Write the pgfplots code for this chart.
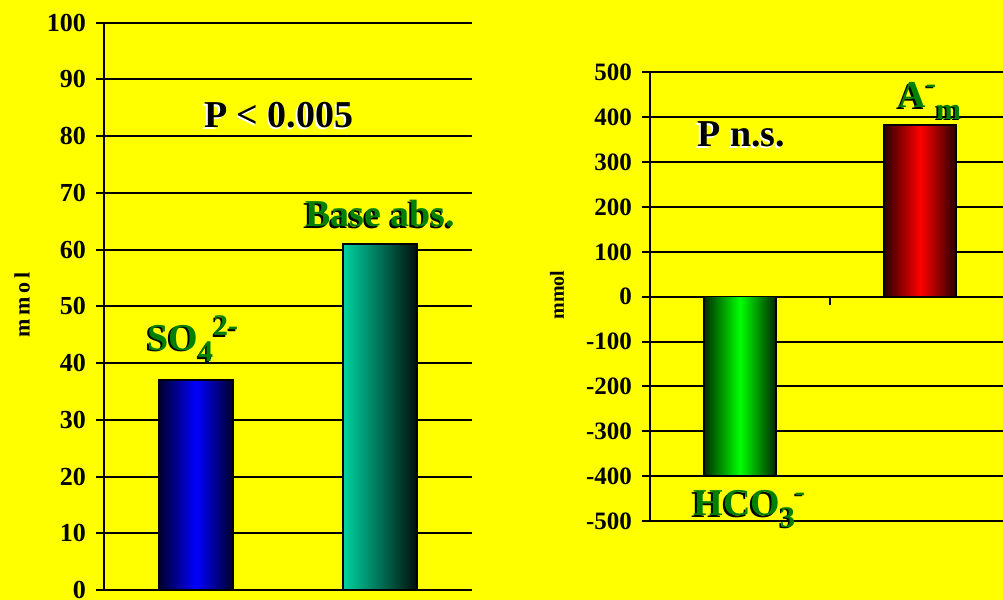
\documentclass[border=0pt]{standalone}
\usepackage{fontspec}
\setmainfont{Liberation Serif}
\usepackage{pgfplots}
\pgfplotsset{compat=1.18}
\definecolor{bg}{RGB}{255,255,0}
\definecolor{lbl}{RGB}{0,128,0}
\newcommand\shtext[5]{% anchor, coord, shadow colour, text colour, text
  \node[anchor=#1,text=#3,inner sep=0pt] at ([shift={(-0.8pt,-0.8pt)}]#2) {#5};
  \node[anchor=#1,text=#4,inner sep=0pt] at (#2) {#5};}
\newcommand\bigfont{\fontsize{19}{22}\selectfont\bfseries}
\newcommand\lsub[1]{\raisebox{-0.3em}{\fontsize{15}{17}\selectfont #1}}
\newcommand\lsup[1]{\raisebox{0.38em}{\fontsize{15}{17}\selectfont #1}}
\pgfplotsset{
  mystyle/.style={
    scale only axis,
    axis y line*=left,
    axis x line=none,
    y axis line style={line width=1pt,-},
    ymajorgrids,
    major grid style={line width=1pt,black},
    tick align=outside,
    major tick length=4pt,
    ytick style={line width=1pt,black},
    /pgf/number format/assume math mode=true,
    yticklabel style={font=\fontsize{13}{15}\selectfont\bfseries,xshift=-1.5pt},
    xmin=0.5,
    clip=false,
  },
  mybar/.style={ybar,bar width=0.4,draw=black,line width=0.8pt},
}
\begin{document}
\begin{tikzpicture}
\path[use as bounding box] (0,0) rectangle (501.5pt,300pt);
\clip (0,0) rectangle (501.5pt,300pt);
\fill[bg] (0,0) rectangle (501.5pt,300pt);
% left chart
\begin{axis}[mystyle,
  at={(52pt,5pt)}, anchor=south west,
  width=184pt, height=283.65pt,
  xmax=2.5, ymin=0, ymax=100, ytick={0,10,...,100}]
\addplot[mybar,left color={rgb,255:red,0;green,0;blue,45},right color={rgb,255:red,0;green,0;blue,45},middle color={rgb,255:red,0;green,0;blue,255}] coordinates {(1,37)};
\addplot[mybar,left color={rgb,255:red,0;green,210;blue,160},right color={rgb,255:red,0;green,15;blue,10}] coordinates {(2,61)};
\shtext{base}{axis cs:1.45,81.5}{white}{black}{\bigfont P < 0.005}
\shtext{base}{axis cs:2.0,64.0}{black}{lbl}{\bigfont Base abs.}
\shtext{base west}{axis cs:0.734,42.3}{black}{lbl}{\bigfont SO\lsub{4}\lsup{2-}}
\end{axis}
% right chart
\begin{axis}[mystyle,
  at={(325pt,39.5pt)}, anchor=south west,
  width=176.5pt, height=224.3pt,
  xmax=2.46, ymin=-500, ymax=500, ytick={-500,-400,...,500},
  yticklabel style={font=\fontsize{12.5}{14}\selectfont\bfseries}]
\addplot[mybar,left color={rgb,255:red,0;green,45;blue,0},right color={rgb,255:red,0;green,40;blue,0},middle color={rgb,255:red,0;green,255;blue,0}] coordinates {(1,-400)};
\addplot[mybar,left color={rgb,255:red,45;green,0;blue,0},right color={rgb,255:red,40;green,0;blue,0},middle color={rgb,255:red,255;green,0;blue,0}] coordinates {(2,383)};
\draw[line width=1pt] (axis cs:1.5,0) -- ([yshift=-4pt]axis cs:1.5,0);
\shtext{base west}{axis cs:0.761,334}{white}{black}{\bigfont P n.s.}
\shtext{base west}{axis cs:1.878,421}{black}{lbl}{\bigfont A\lsup{-}\lsub{m}}
\shtext{base west}{axis cs:0.739,-488}{black}{lbl}{\bigfont HCO\lsub{3}\lsup{-}}
\end{axis}
\node[rotate=90,font=\fontsize{11}{13}\selectfont\bfseries\addfontfeature{LetterSpace=18}] at (11pt,147.5pt) {mmol};
\node[rotate=90,font=\fontsize{10}{12}\selectfont\bfseries] at (278.5pt,152.5pt) {mmol};
\end{tikzpicture}
\end{document}
